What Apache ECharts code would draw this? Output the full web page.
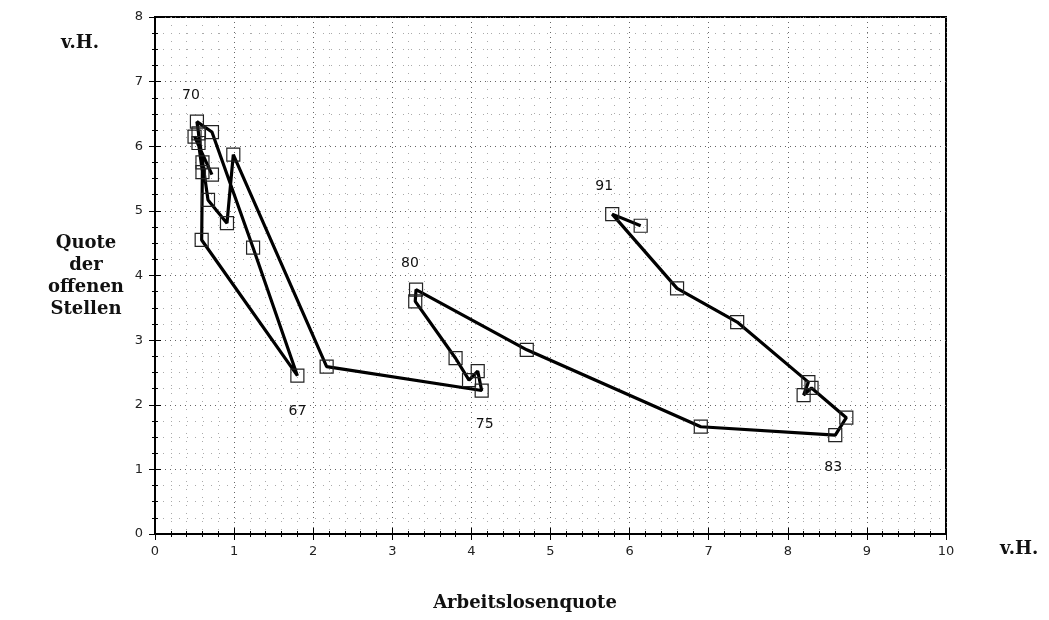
<!DOCTYPE html>
<html>
<head>
<meta charset="utf-8">
<script src="https://cdn.jsdelivr.net/npm/echarts@6/dist/echarts.min.js"></script>
<style>
  html, body { margin: 0; padding: 0; background: #fff; }
  #chart { width: 1049px; height: 620px; }
</style>
</head>
<body>
<div id="chart"></div>
<script>
// Arbeitslosenquote (x) vs. Quote der offenen Stellen (y), in path order
const unemployment = [
  0.72, 0.50, 0.55, 0.60, 0.55, 0.60, 0.59, 1.80, 1.24, 0.72,
  0.53, 0.67, 0.91, 0.99, 2.17, 4.13, 4.08, 3.97, 3.80, 3.29,
  3.30, 4.70, 6.90, 8.60, 8.74, 8.30, 8.20, 8.26, 7.36, 6.60,
  5.78, 6.14
]
const vacancies = [
  5.56, 6.15, 6.05, 5.60, 6.20, 5.75, 4.55, 2.45, 4.43, 6.22,
  6.38, 5.17, 4.81, 5.87, 2.59, 2.22, 2.52, 2.38, 2.72, 3.60,
  3.78, 2.85, 1.66, 1.53, 1.80, 2.26, 2.15, 2.35, 3.28, 3.80,
  4.95, 4.77
]
// year labels written next to some points ('' = none)
const pointLabels = [
  '', '', '', '', '', '', '', '67', '', '',
  '70', '', '', '', '', '75', '', '', '', '',
  '80', '', '', '83', '', '', '', '', '', '',
  '91', ''
]
const xTicks = ['0', '1', '2', '3', '4', '5', '6', '7', '8', '9', '10']
const yTicks = ['0', '1', '2', '3', '4', '5', '6', '7', '8']

// where each year label sits relative to its point
const labelPlace = {
  '70': { position: 'top', distance: 12, offset: [-6, 0] },
  '67': { position: 'bottom', distance: 22, offset: [0, 0] },
  '80': { position: 'top', distance: 12, offset: [-6, 0] },
  '75': { position: 'bottom', distance: 20, offset: [3, 0] },
  '91': { position: 'top', distance: 14, offset: [-8, 0] },
  '83': { position: 'bottom', distance: 18, offset: [-2, 0] }
}

const pathData = unemployment.map((x, i) => {
  const item = { value: [x, vacancies[i]] }
  const txt = pointLabels[i]
  if (txt) {
    item.label = Object.assign({
      show: true,
      formatter: txt,
      color: '#111',
      fontFamily: 'DejaVu Sans',
      fontSize: 14
    }, labelPlace[txt])
  }
  return item
})

const chart = echarts.init(document.getElementById('chart'))

const serif = 'DejaVu Serif'
const dotted = { show: true, lineStyle: { type: [1, 4], color: '#666', width: 1 } }
const minorDotted = { show: true, lineStyle: { type: [1, 7], color: '#aaa', width: 1 } }

const option = {
  backgroundColor: '#fff',
  animation: false,
  grid: {
    left: 155, right: 103, top: 17, bottom: 86,
    show: true, borderColor: '#000', borderWidth: 2
  },
  xAxis: [
    {
      type: 'value', min: 0, max: 10, interval: 1,
      axisLine: { show: true, lineStyle: { color: '#000', width: 2 } },
      axisTick: { show: true, inside: true, length: 6, lineStyle: { color: '#000' } },
      minorTick: { show: true, splitNumber: 5, length: 3, lineStyle: { color: '#000' } },
      axisLabel: {
        color: '#222', fontSize: 13, fontFamily: 'DejaVu Sans', margin: 11,
        formatter: (v) => xTicks[Math.round(v)]
      },
      splitLine: dotted,
      minorSplitLine: minorDotted
    },
    {
      type: 'value', min: 0, max: 10, interval: 1, position: 'top',
      axisLine: { show: false },
      axisTick: { show: true, inside: true, length: 6, lineStyle: { color: '#000' } },
      minorTick: { show: true, splitNumber: 5, length: 3, lineStyle: { color: '#000' } },
      axisLabel: { show: false },
      splitLine: { show: false }
    }
  ],
  yAxis: [
    {
      type: 'value', min: 0, max: 8, interval: 1,
      axisLine: { show: true, lineStyle: { color: '#000', width: 2 } },
      axisTick: { show: true, inside: true, length: 6, lineStyle: { color: '#000' } },
      minorTick: { show: true, splitNumber: 4, length: 3, lineStyle: { color: '#000' } },
      axisLabel: {
        color: '#222', fontSize: 13, fontFamily: 'DejaVu Sans', margin: 12,
        formatter: (v) => yTicks[Math.round(v)]
      },
      splitLine: dotted,
      minorSplitLine: minorDotted
    },
    {
      type: 'value', min: 0, max: 8, interval: 1, position: 'right',
      axisLine: { show: false },
      axisTick: { show: true, inside: true, length: 6, lineStyle: { color: '#000' } },
      minorTick: { show: true, splitNumber: 4, length: 3, lineStyle: { color: '#000' } },
      axisLabel: { show: false },
      splitLine: { show: false }
    }
  ],
  graphic: [
    { type: 'text', x: 80, y: 34,
      style: { text: 'v.H.', font: 'bold 18px ' + serif, fill: '#111', align: 'center' } },
    { type: 'text', x: 86, y: 232,
      style: { text: 'Quote\nder\noffenen\nStellen', font: 'bold 18px ' + serif,
               fill: '#111', align: 'center', lineHeight: 22 } },
    { type: 'text', x: 1000, y: 540,
      style: { text: 'v.H.', font: 'bold 18px ' + serif, fill: '#111' } },
    { type: 'text', x: 525, y: 594,
      style: { text: 'Arbeitslosenquote', font: 'bold 18px ' + serif, fill: '#111', align: 'center' } }
  ],
  series: [
    {
      type: 'line',
      data: pathData,
      xAxisIndex: 0,
      yAxisIndex: 0,
      lineStyle: { color: '#000', width: 3.2 },
      symbol: 'rect',
      symbolSize: 13,
      showAllSymbol: true,
      itemStyle: { color: 'rgba(255,255,255,0)', borderColor: '#222', borderWidth: 1.2 },
      z: 3
    }
  ]
}

chart.setOption(option)
</script>
</body>
</html>
